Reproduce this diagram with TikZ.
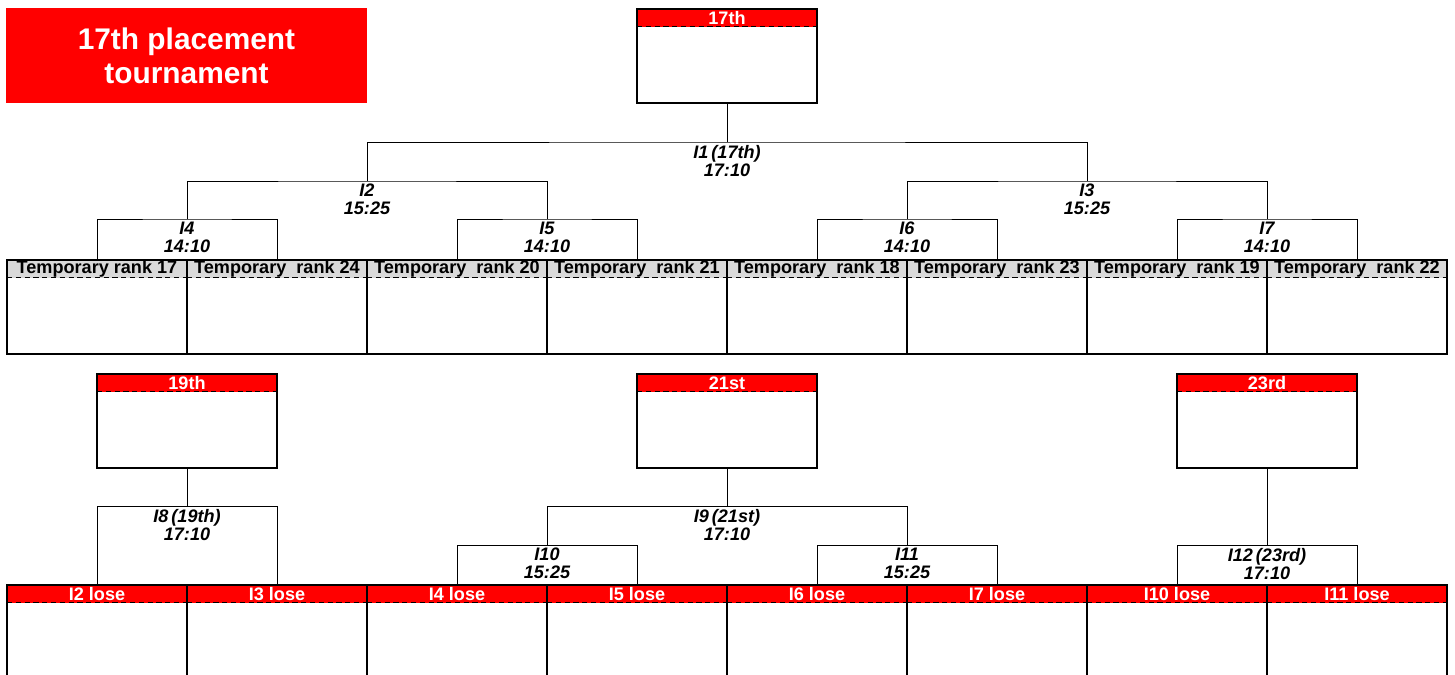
\documentclass[tikz,border=0pt]{standalone}
\usepackage{fontspec}
\setmainfont{Liberation Sans}
\usetikzlibrary{positioning}

\begin{document}
\begin{tikzpicture}[x=0.02cm, y=-0.02cm,
    slot/.style={draw, line width=1.1pt, rectangle, minimum width=3.6cm, minimum height=1.88cm, anchor=north, inner sep=0pt},
    head/.style={rectangle, minimum width=3.6cm, minimum height=0.38cm, anchor=north, inner sep=0pt,
        font=\fontsize{10.3}{11}\selectfont\bfseries,
        path picture={\draw[densely dashed, line width=0.4pt] ([yshift=0.3pt]path picture bounding box.south west) -- ([yshift=0.3pt]path picture bounding box.south east);}},
    redhead/.style={head, fill=red, text=white},
    grayhead/.style={head, fill=gray!30},
    match/.style={anchor=north, align=center, inner sep=1.5pt, font=\fontsize{10.3}{10.3}\selectfont\bfseries\itshape},
    link/.style={line width=0.5pt}]
    \clip (0,0) rectangle (1455,674);

    % Title
    \node[fill=red, text=white, minimum width=7.22cm, minimum height=1.9cm, align=center, font=\fontsize{17}{19.5}\selectfont\bfseries] (title) at (186.5,55.5) {17th placement\\tournament};

    % 17th place
    \node[redhead] (h17th) at (727,8) {17th};
    \node[slot] (p17) at (727,8) {};

    % Temporary ranks
    \node[grayhead] (hr17) at (97,259) {Temporary rank 17};
    \node[slot] (r17) at (97,259) {};
    \node[grayhead] (hr24) at (277,259) {Temporary\ \ rank 24};
    \node[slot] (r24) at (277,259) {};
    \node[grayhead] (hr20) at (457,259) {Temporary\ \ rank 20};
    \node[slot] (r20) at (457,259) {};
    \node[grayhead] (hr21) at (637,259) {Temporary\ \ rank 21};
    \node[slot] (r21) at (637,259) {};
    \node[grayhead] (hr18) at (817,259) {Temporary\ \ rank 18};
    \node[slot] (r18) at (817,259) {};
    \node[grayhead] (hr23) at (997,259) {Temporary\ \ rank 23};
    \node[slot] (r23) at (997,259) {};
    \node[grayhead] (hr19) at (1177,259) {Temporary\ \ rank 19};
    \node[slot] (r19) at (1177,259) {};
    \node[grayhead] (hr22) at (1357,259) {Temporary\ \ rank 22};
    \node[slot] (r22) at (1357,259) {};

    % 19th, 21st, 23rd places
    \node[redhead] (h19th) at (187,373) {19th};
    \node[slot] (p19) at (187,373) {};
    \node[redhead] (h21st) at (727,373) {21st};
    \node[slot] (p21) at (727,373) {};
    \node[redhead] (h23rd) at (1267,373) {23rd};
    \node[slot] (p23) at (1267,373) {};

    % Losers
    \node[redhead] (hl2) at (97,584) {I2 lose};
    \node[slot] (l2) at (97,584) {};
    \node[redhead] (hl3) at (277,584) {I3 lose};
    \node[slot] (l3) at (277,584) {};
    \node[redhead] (hl4) at (457,584) {I4 lose};
    \node[slot] (l4) at (457,584) {};
    \node[redhead] (hl5) at (637,584) {I5 lose};
    \node[slot] (l5) at (637,584) {};
    \node[redhead] (hl6) at (817,584) {I6 lose};
    \node[slot] (l6) at (817,584) {};
    \node[redhead] (hl7) at (997,584) {I7 lose};
    \node[slot] (l7) at (997,584) {};
    \node[redhead] (hl10) at (1177,584) {I10 lose};
    \node[slot] (l10) at (1177,584) {};
    \node[redhead] (hl11) at (1357,584) {I11 lose};
    \node[slot] (l11) at (1357,584) {};

    % Upper bracket
    \coordinate (m4) at (187,219);
    \coordinate (m5) at (547,219);
    \coordinate (m6) at (907,219);
    \coordinate (m7) at (1267,219);
    \coordinate (m2) at (367,181);
    \coordinate (m3) at (1087,181);
    \coordinate (m1) at (727,142);
    \draw[link] (r17.north) |- (m4) -| (r24.north);
    \draw[link] (r20.north) |- (m5) -| (r21.north);
    \draw[link] (r18.north) |- (m6) -| (r23.north);
    \draw[link] (r19.north) |- (m7) -| (r22.north);
    \draw[link] (m4) |- (m2) -| (m5);
    \draw[link] (m6) |- (m3) -| (m7);
    \draw[link] (m2) |- (m1) -| (m3);
    \draw[link] (m1) -- (p17.south);
    \node[match] (g1) at (m1) {I1\,(17th)\\17:10};
    \node[match] (g2) at (m2) {I2\\15:25};
    \node[match] (g3) at (m3) {I3\\15:25};
    \node[match] (g4) at (m4) {I4\\14:10};
    \node[match] (g5) at (m5) {I5\\14:10};
    \node[match] (g6) at (m6) {I6\\14:10};
    \node[match] (g7) at (m7) {I7\\14:10};

    % Lower bracket
    \coordinate (m8) at (187,506);
    \coordinate (m9) at (727,506);
    \coordinate (m10) at (547,545);
    \coordinate (m11) at (907,545);
    \coordinate (m12) at (1267,545);
    \draw[link] (l2.north) |- (m8) -| (l3.north);
    \draw[link] (m8) -- (p19.south);
    \draw[link] (l4.north) |- (m10) -| (l5.north);
    \draw[link] (l6.north) |- (m11) -| (l7.north);
    \draw[link] (m10) |- (m9) -| (m11);
    \draw[link] (m9) -- (p21.south);
    \draw[link] (l10.north) |- (m12) -| (l11.north);
    \draw[link] (m12) -- (p23.south);
    \node[match] (g8) at (m8) {I8\,(19th)\\17:10};
    \node[match] (g9) at (m9) {I9\,(21st)\\17:10};
    \node[match] (g10) at (m10) {I10\\15:25};
    \node[match] (g11) at (m11) {I11\\15:25};
    \node[match] (g12) at (m12) {I12\,(23rd)\\17:10};
\end{tikzpicture}
\end{document}
